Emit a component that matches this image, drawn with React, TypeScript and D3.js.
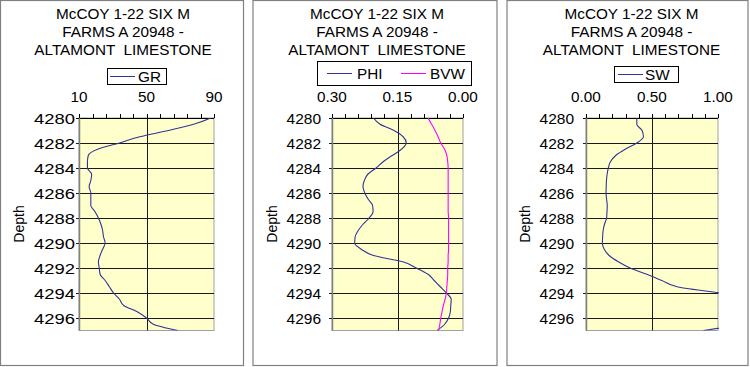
import React, { useEffect, useRef } from "react";
import * as d3 from "d3";

const depths = [
  4280, 4280.5, 4281, 4281.5, 4282, 4282.5, 4283, 4283.5, 4284, 4284.5, 4285, 4285.5,
  4286, 4286.5, 4287, 4287.5, 4288, 4288.5, 4289, 4289.5, 4290, 4290.5, 4291, 4291.5,
  4292, 4292.5, 4293, 4293.5, 4294, 4294.5, 4295, 4295.5, 4296, 4296.5, 4297,
];
const grValues = [
  88, 78, 63, 46, 34, 21, 15.5, 15, 15, 17.5, 17, 16, 17, 17, 17, 19.5, 21.5, 23, 24,
  24.5, 25.5, 24, 22.5, 21.5, 22, 22.5, 25.5, 28, 30.5, 34, 36.5, 44.5, 50, 54, 68.5,
];
const phiValues = [
  0.205, 0.19, 0.158, 0.137, 0.13, 0.141, 0.162, 0.183, 0.199, 0.218, 0.226, 0.229,
  0.225, 0.217, 0.207, 0.206, 0.215, 0.229, 0.24, 0.247, 0.248, 0.233, 0.205, 0.138,
  0.107, 0.08, 0.066, 0.052, 0.038, 0.027, 0.028, 0.029, 0.033, 0.042, 0.059,
];
const bvwValues = [
  0.08, 0.072, 0.064, 0.057, 0.051, 0.042, 0.037, 0.035, 0.034, 0.034, 0.034, 0.034,
  0.034, 0.034, 0.034, 0.034, 0.033, 0.033, 0.033, 0.033, 0.033, 0.033, 0.034, 0.034,
  0.035, 0.035, 0.036, 0.037, 0.038, 0.041, 0.045, 0.048, 0.051, 0.053, 0.056,
];
const swValues = [
  0.385, 0.385, 0.425, 0.435, 0.385, 0.297, 0.225, 0.185, 0.169, 0.16, 0.155, 0.153,
  0.152, 0.156, 0.161, 0.159, 0.156, 0.14, 0.13, 0.126, 0.124, 0.138, 0.175, 0.245,
  0.334, 0.46, 0.575, 0.69, 1.02, 1.4, 1.6, 1.7, 1.5, 1.2, 0.89,
];

const depthTicks = [4280, 4282, 4284, 4286, 4288, 4290, 4292, 4294, 4296];
const titleLines = ["McCOY 1-22 SIX M", "FARMS A 20948 -", "ALTAMONT  LIMESTONE"];
const grTicks = [10, 50, 90];
const phiTicks = [0.3, 0.15, 0];
const swTicks = [0, 0.5, 1];

const FONT = "'Liberation Sans', Arial, sans-serif";
const NAVY = "#333399";
const MAGENTA = "#ff00ff";

type Series = { name: string; values: number[]; color: string; lx: number; tx: number };
type Panel = {
  box: [number, number];
  plot: [number, number];
  titleX: number;
  legend: [number, number, number, number];
  domain: [number, number];
  ticks: number[];
  fmt: (v: number) => string;
  series: Series[];
  labelRight: number;
  labelWidth?: number;
  depthX: number;
};

const panels: Panel[] = [
  {
    box: [0.5, 243.5],
    plot: [79, 214],
    titleX: 123,
    legend: [107, 166, 68, 84],
    domain: [10, 90],
    ticks: grTicks,
    fmt: d3.format("d"),
    series: [{ name: "GR", values: grValues, color: NAVY, lx: 110, tx: 138 }],
    labelRight: 75,
    labelWidth: 41,
    depthX: 24,
  },
  {
    box: [253, 497],
    plot: [332, 463],
    titleX: 377,
    legend: [317, 471, 61, 85],
    domain: [0.3, 0],
    ticks: phiTicks,
    fmt: d3.format(".2f"),
    series: [
      { name: "PHI", values: phiValues, color: NAVY, lx: 327, tx: 357 },
      { name: "BVW", values: bvwValues, color: MAGENTA, lx: 401, tx: 430 },
    ],
    labelRight: 321,
    depthX: 277,
  },
  {
    box: [507, 748],
    plot: [586, 718],
    titleX: 631.5,
    legend: [614, 678, 66, 82],
    domain: [0, 1],
    ticks: swTicks,
    fmt: d3.format(".2f"),
    series: [{ name: "SW", values: swValues, color: NAVY, lx: 618, tx: 645 }],
    labelRight: 574,
    depthX: 530,
  },
];

export default function App() {
  const ref = useRef<SVGSVGElement | null>(null);

  useEffect(() => {
    const svg = d3.select(ref.current);
    svg.selectAll("*").remove();
    svg.append("rect").attr("width", 750).attr("height", 367).attr("fill", "#fff");

    const y = d3.scaleLinear().domain([4280, 4297]).range([118, 330.5]);

    panels.forEach((p, pi) => {
      const g = svg.append("g");
      const x = d3.scaleLinear().domain(p.domain).range(p.plot);
      const [x0, x1] = p.plot;
      const [y0, y1] = y.range();

      // panel frame
      g.append("rect")
        .attr("x", p.box[0])
        .attr("y", 0.5)
        .attr("width", p.box[1] - p.box[0])
        .attr("height", 365)
        .attr("fill", "#fff")
        .attr("stroke", "#808080")
        .attr("stroke-width", 1.2);

      // title
      titleLines.forEach((t, i) => {
        g.append("text")
          .attr("x", p.titleX)
          .attr("y", 19 + i * 18)
          .attr("text-anchor", "middle")
          .attr("font-family", FONT)
          .attr("font-size", 15.3)
          .style("white-space", "pre")
          .text(t);
      });

      // legend
      const [lx0, lx1, ly0, ly1] = p.legend;
      g.append("rect")
        .attr("x", lx0 + 0.5)
        .attr("y", ly0 + 0.5)
        .attr("width", lx1 - lx0)
        .attr("height", ly1 - ly0)
        .attr("fill", "#fff")
        .attr("stroke", "#000");
      const lyMid = (ly0 + ly1) / 2;
      p.series.forEach((s) => {
        g.append("line")
          .attr("x1", s.lx)
          .attr("x2", s.lx + 25)
          .attr("y1", lyMid + 0.5)
          .attr("y2", lyMid + 0.5)
          .attr("stroke", s.color);
        g.append("text")
          .attr("x", s.tx)
          .attr("y", lyMid + 5.5)
          .attr("font-family", FONT)
          .attr("font-size", 15.3)
          .text(s.name);
      });

      // plot area
      g.append("rect")
        .attr("x", x0)
        .attr("y", y0)
        .attr("width", x1 - x0)
        .attr("height", y1 - y0)
        .attr("fill", "#ffffcc")
        .attr("stroke", "#a0a0a0");

      // horizontal grid + y ticks
      depthTicks.forEach((d) => {
        const yy = Math.round(y(d)) + 0.5;
        g.append("line")
          .attr("x1", x0 - 3)
          .attr("x2", x1)
          .attr("y1", yy)
          .attr("y2", yy)
          .attr("stroke", d === 4280 ? "#000" : "#1a1a1a");
        const t = g
          .append("text")
          .attr("x", p.labelRight)
          .attr("y", yy + 5.5)
          .attr("text-anchor", "end")
          .attr("font-family", FONT)
          .attr("font-size", 15.5)
          .text(String(d));
        if (p.labelWidth) t.attr("textLength", p.labelWidth).attr("lengthAdjust", "spacingAndGlyphs");
      });

      // vertical middle gridline
      const xm = Math.round(x(p.ticks[1])) + 0.5;
      g.append("line").attr("x1", xm).attr("x2", xm).attr("y1", y0).attr("y2", y1).attr("stroke", "#1a1a1a");

      // y axis line
      g.append("line").attr("x1", x0 + 0.5).attr("x2", x0 + 0.5).attr("y1", y0).attr("y2", y1).attr("stroke", "#808080").attr("stroke-width", 1.5);

      // top axis with minor ticks
      const minor = d3.range(11).map((i) => p.domain[0] + ((p.domain[1] - p.domain[0]) * i) / 10);
      minor.forEach((v) => {
        const xx = Math.round(x(v)) + 0.5;
        g.append("line").attr("x1", xx).attr("x2", xx).attr("y1", y0 - 4).attr("y2", y0).attr("stroke", "#000");
      });
      p.ticks.forEach((v) => {
        g.append("text")
          .attr("x", x(v))
          .attr("y", 102)
          .attr("text-anchor", "middle")
          .attr("font-family", FONT)
          .attr("font-size", 15.3)
          .text(p.fmt(v));
      });

      // depth label
      g.append("text")
        .attr("transform", `translate(${p.depthX},${224}) rotate(-90)`)
        .attr("text-anchor", "middle")
        .attr("font-family", FONT)
        .attr("font-size", 14)
        .text("Depth");

      // curves
      const clipId = `clip${pi}`;
      svg
        .append("clipPath")
        .attr("id", clipId)
        .append("rect")
        .attr("x", x0)
        .attr("y", y0)
        .attr("width", x1 - x0 + 1)
        .attr("height", y1 - y0);
      p.series.forEach((s) => {
        const line = d3
          .line<number>()
          .x((v) => x(v))
          .y((_, i) => y(depths[i]))
          .curve(d3.curveMonotoneY);
        g.append("path")
          .attr("clip-path", `url(#${clipId})`)
          .attr("d", line(s.values) || "")
          .attr("fill", "none")
          .attr("stroke", s.color)
          .attr("stroke-width", 1.1);
      });
    });
  }, []);

  return (
    <div style={{ position: "absolute", left: 0, top: 0 }}>
      <svg ref={ref} width={750} height={367} style={{ display: "block" }} />
    </div>
  );
}
